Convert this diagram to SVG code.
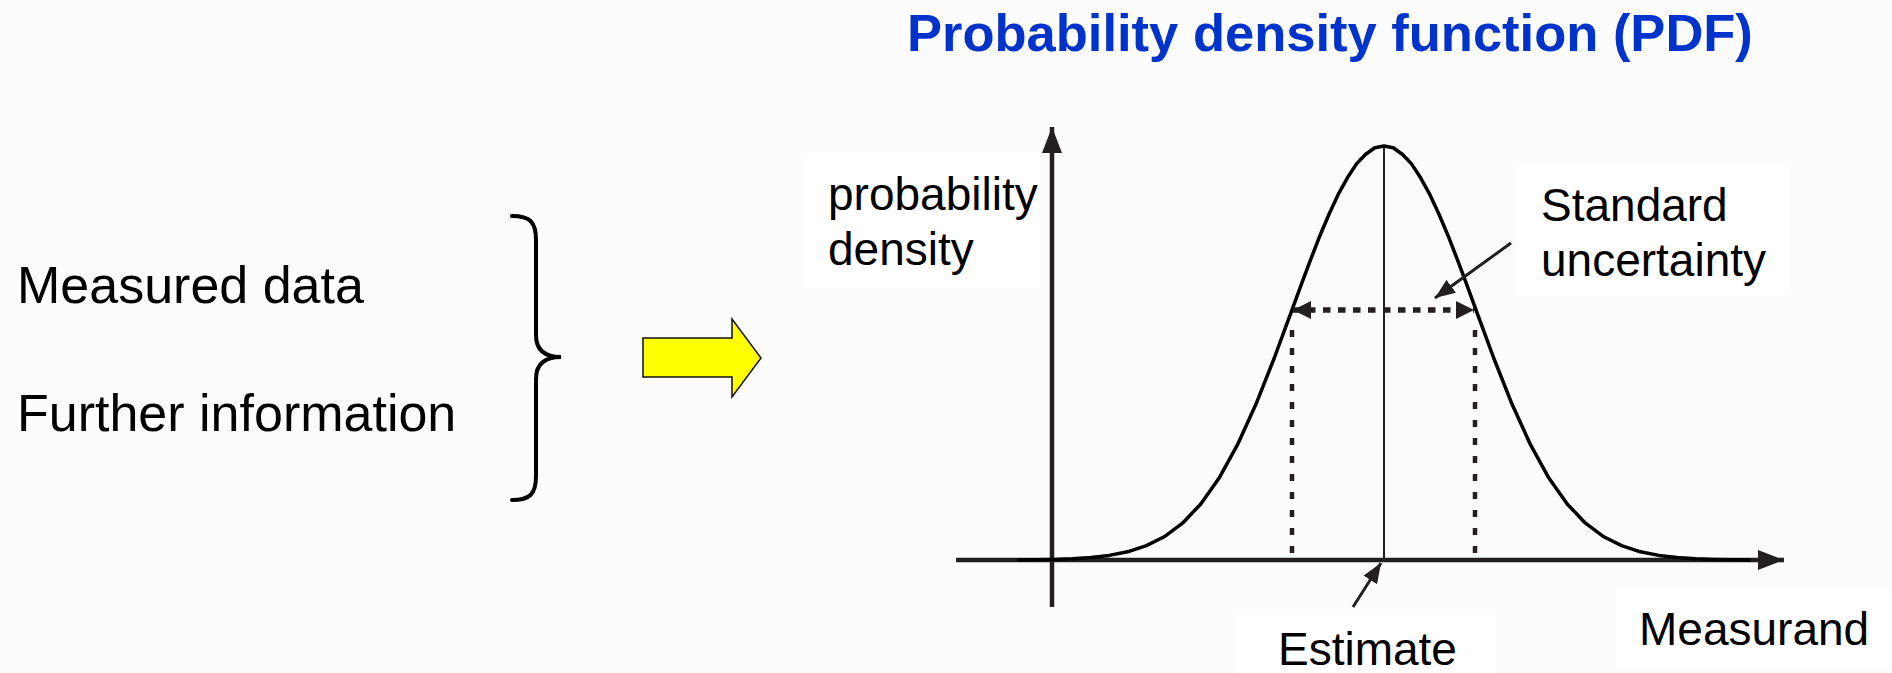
<svg xmlns="http://www.w3.org/2000/svg" width="1892" height="673" viewBox="0 0 1892 673">
<style>
.lbl{font-family:"Liberation Sans",Arial,sans-serif;font-size:46px;fill:#000}
.big{font-family:"Liberation Sans",Arial,sans-serif;font-size:52px;fill:#000}
.title{font-family:"Liberation Sans",Arial,sans-serif;font-size:52.5px;font-weight:bold;fill:#0033CC}
.axis{stroke:#231F20;stroke-width:4.5;fill:none}
.dashv{stroke:#231F20;stroke-width:4.5;fill:none;stroke-dasharray:7 11}
.dashh{stroke:#231F20;stroke-width:5.5;fill:none;stroke-dasharray:7.5 7.5}
.ptr{stroke:#231F20;stroke-width:3;fill:none}
.box{fill:#FFFFFF}
</style>
<defs>
<marker id="ah" viewBox="0 0 26 20" refX="26" refY="10" markerWidth="26" markerHeight="20" markerUnits="userSpaceOnUse" orient="auto">
<path d="M0,0 L26,10 L0,20 Z" fill="#231F20"/>
</marker>
<marker id="ahs" viewBox="0 0 20 16" refX="20" refY="8" markerWidth="20" markerHeight="16" markerUnits="userSpaceOnUse" orient="auto">
<path d="M0,0 L20,8 L0,16 Z" fill="#231F20"/>
</marker>
<marker id="ahd" viewBox="0 0 18 18" refX="18" refY="9" markerWidth="18" markerHeight="18" markerUnits="userSpaceOnUse" orient="auto-start-reverse">
<path d="M0,0 L18,9 L0,18 Z" fill="#231F20"/>
</marker>
</defs>
<rect x="0" y="0" width="1892" height="673" fill="#FCFCFC"/>
<rect class="box" x="803" y="153" width="237" height="135"/>
<rect class="box" x="1517" y="163" width="273" height="132"/>
<rect class="box" x="1237" y="610" width="258" height="63"/>
<rect class="box" x="1616" y="588" width="276" height="79"/>

<g id="title"><text class="title" x="907" y="51">Probability density function (PDF)</text></g>

<g id="inputs">
<text class="big" x="17" y="303">Measured data</text>
<text class="big" x="17" y="431">Further information</text>
</g>

<g id="brace">
<path d="M512,216 C530,216 536,222 536,240 L536,335 C536,350 545,357 561,357 C545,357 536,364 536,379 L536,476 C536,494 530,500 512,500" fill="none" stroke="#000" stroke-width="4" stroke-linecap="round"/>
</g>

<g id="bigarrow">
<polygon points="643,338 732,338 732,319 761,358 732,397 732,377 643,377" fill="#FFFF00" stroke="#111" stroke-width="1.5" stroke-linejoin="miter"/>
</g>

<g id="ylabel"><text class="lbl" x="828" y="210">probability</text><text class="lbl" x="828" y="265">density</text></g>
<g id="stdlabel"><text class="lbl" x="1541" y="221">Standard</text><text class="lbl" x="1541" y="276">uncertainty</text></g>
<g id="estlabel"><text class="lbl" x="1278" y="665">Estimate</text></g>
<g id="xlabel"><text class="lbl" x="1639" y="645">Measurand</text></g>

<g id="connectors">
<line class="axis" x1="956" y1="560" x2="1784" y2="560" marker-end="url(#ah)"/>
<line class="axis" x1="1052" y1="607" x2="1052" y2="127" marker-end="url(#ah)"/>
<line x1="1384" y1="146" x2="1384" y2="560" stroke="#231F20" stroke-width="2"/>
<polyline fill="none" stroke="#000" stroke-width="3.5" stroke-linejoin="round" points="1017.6,559.9 1035.9,559.7 1054.2,559.4 1072.6,558.7 1090.9,557.5 1109.2,555.4 1127.5,551.8 1145.8,545.9 1164.2,536.8 1182.5,523.2 1200.8,504.0 1219.1,478.1 1237.4,444.9 1255.8,404.6 1274.1,358.5 1292.4,308.9 1301.6,283.7 1310.7,259.4 1319.9,235.7 1329.0,214.2 1338.2,194.4 1347.4,177.8 1356.5,163.9 1365.7,154.2 1374.8,147.8 1384,146 1393.2,147.8 1402.3,154.2 1411.5,163.9 1420.6,177.8 1429.8,194.4 1439.0,214.2 1448.1,235.7 1457.3,259.4 1466.4,283.7 1475.6,308.9 1493.9,358.5 1512.2,404.6 1530.6,444.9 1548.9,478.1 1567.2,504.0 1585.5,523.2 1603.8,536.8 1622.2,545.9 1640.5,551.8 1658.8,555.4 1677.1,557.5 1695.4,558.7 1713.8,559.4 1732.1,559.7 1750.4,559.9"/>
<line class="dashv" x1="1292" y1="330" x2="1292" y2="560"/>
<line class="dashv" x1="1475" y1="330" x2="1475" y2="560"/>
<line class="dashh" x1="1293" y1="310" x2="1474" y2="310" marker-start="url(#ahd)" marker-end="url(#ahd)"/>
<line class="ptr" x1="1511" y1="243" x2="1435" y2="298" marker-end="url(#ahs)"/>
<line class="ptr" x1="1353" y1="607" x2="1381" y2="563" marker-end="url(#ahs)"/>
</g>
</svg>
